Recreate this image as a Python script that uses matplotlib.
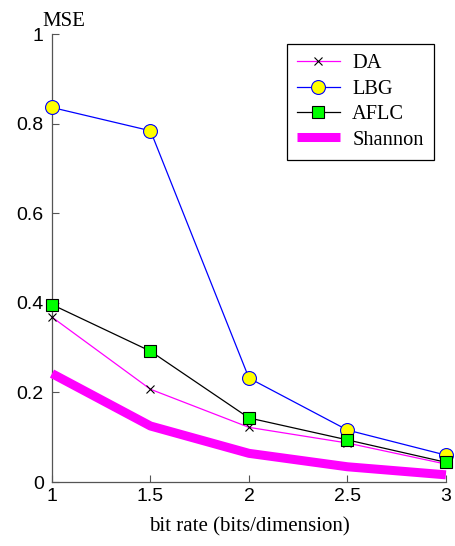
import matplotlib.pyplot as plt

rate = [1, 1.5, 2, 2.5, 3]
da = [0.368, 0.207, 0.122, 0.087, 0.040]
lbg = [0.836, 0.784, 0.232, 0.116, 0.060]
aflc = [0.396, 0.292, 0.143, 0.094, 0.044]
shannon = [0.242, 0.125, 0.064, 0.034, 0.016]

serif = ['Liberation Serif', 'DejaVu Serif']
sans = ['Liberation Sans', 'DejaVu Sans']

fig = plt.figure(figsize=(4.55, 5.46), dpi=100)
ax = fig.add_axes([0.1143, 0.1172, 0.8657, 0.8205])

ax.plot(rate, da, color='#ff00ff', lw=0.9, marker='x', ms=6, mec='black',
        mew=0.8, label='DA', clip_on=False, zorder=4)
ax.plot(rate, lbg, color='#0000ff', lw=0.9, marker='o', ms=10, mfc='#ffff00',
        mec='#0000ff', mew=0.8, label='LBG', clip_on=False, zorder=4)
ax.plot(rate, aflc, color='black', lw=0.9, marker='s', ms=9, mfc='#00ff00',
        mec='black', mew=0.8, label='AFLC', clip_on=False, zorder=5)
ax.plot(rate, shannon, color='#ff00ff', lw=6.5, label='Shannon',
        solid_capstyle='butt', clip_on=False, zorder=3)

ax.set_xlim(1, 3)
ax.set_ylim(0, 1)
ax.set_xticks([1, 1.5, 2, 2.5, 3])
ax.set_xticklabels(['1', '1.5', '2', '2.5', '3'])
ax.set_yticks([0, 0.2, 0.4, 0.6, 0.8, 1])
ax.set_yticklabels(['0', '0.2', '0.4', '0.6', '0.8', '1'])

for s in ['top', 'right']:
    ax.spines[s].set_visible(False)
for s in ['left', 'bottom']:
    ax.spines[s].set_color('#555555')
    ax.spines[s].set_linewidth(0.9)
ax.tick_params(direction='in', length=5, width=0.8, color='#555555',
               labelsize=14)
ax.tick_params(axis='x', pad=4)
ax.tick_params(axis='y', pad=6)
for lab in ax.get_xticklabels() + ax.get_yticklabels():
    lab.set_family(sans)

ax.set_xlabel('bit rate (bits/dimension)', family=serif, fontsize=15, labelpad=9)
fig.text(0.094, 0.953, 'MSE', family=serif, fontsize=15, ha='left', va='baseline')

leg = ax.legend(loc='upper right', bbox_to_anchor=(0.9695, 0.978),
                borderaxespad=0, prop={'family': serif, 'size': 14.7},
                fancybox=False, framealpha=1, edgecolor='black',
                handlelength=2.1, borderpad=0.5, labelspacing=0.3,
                handletextpad=0.6)
leg.get_frame().set_linewidth(0.9)

fig.savefig('out.png', dpi=100)
